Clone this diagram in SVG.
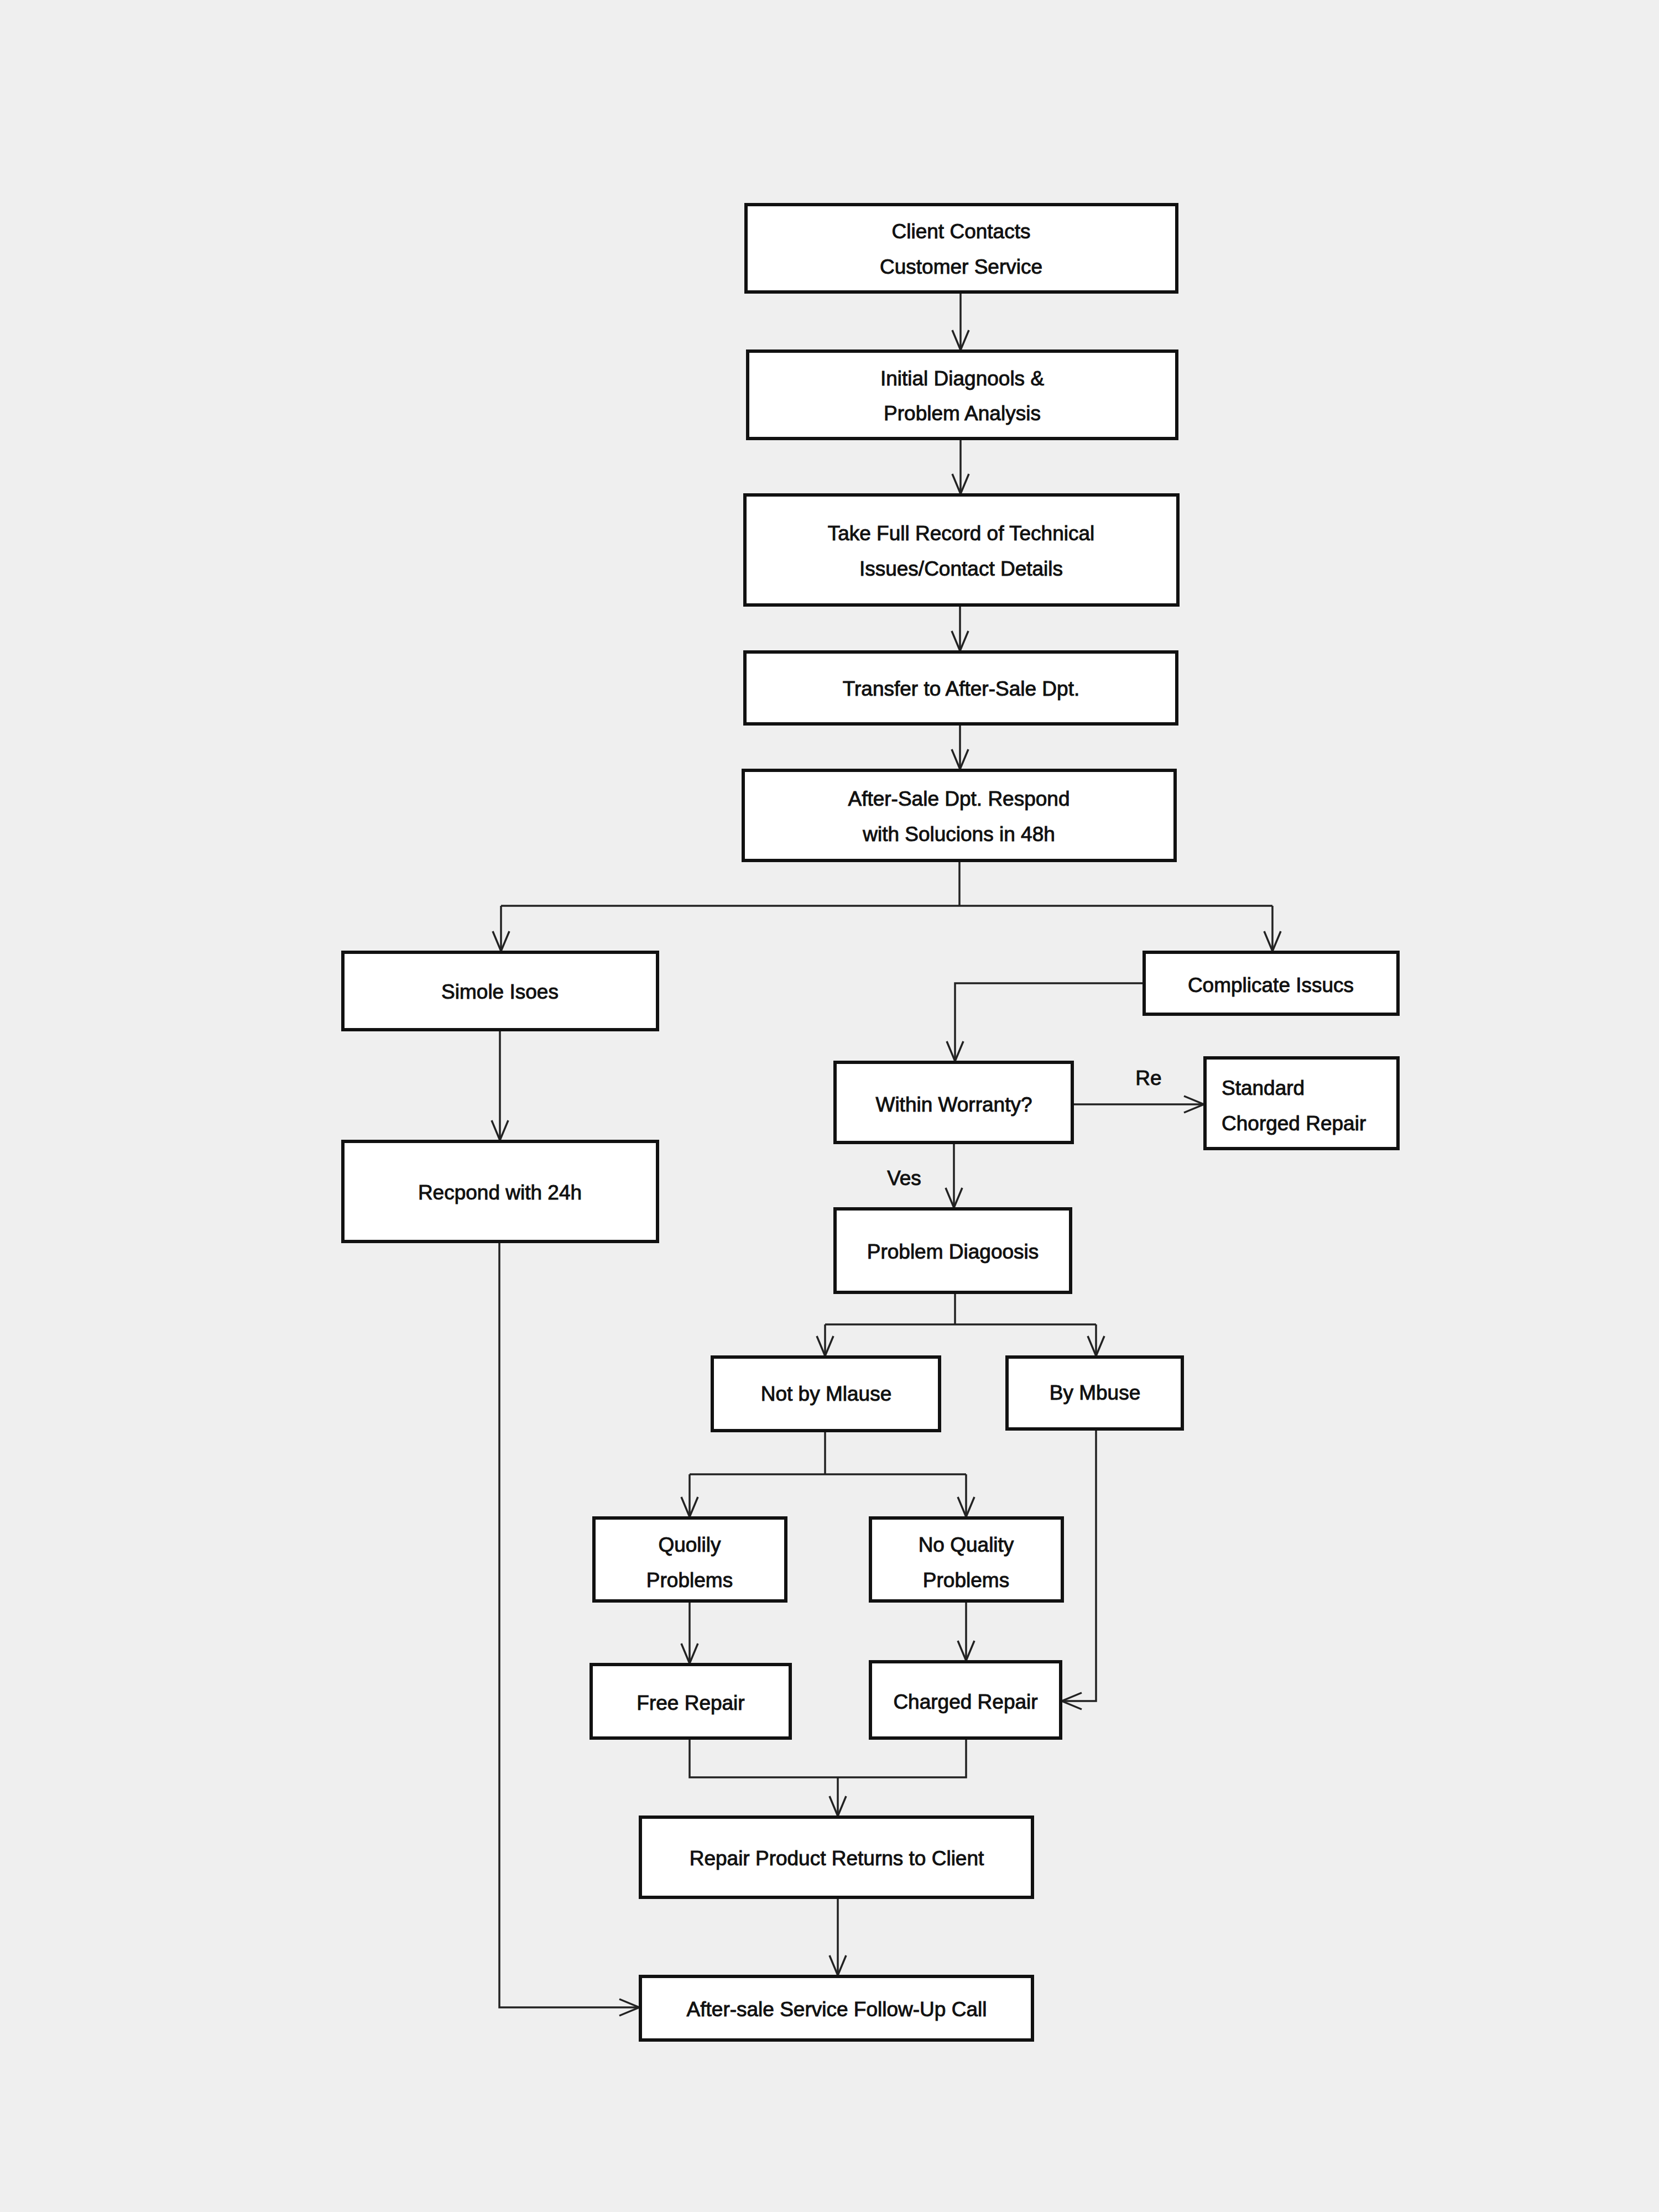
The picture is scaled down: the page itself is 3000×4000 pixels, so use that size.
<svg xmlns="http://www.w3.org/2000/svg" width="3000" height="4000" viewBox="0 0 3000 4000">
<defs>
<style>
.box{fill:#ffffff;stroke:#111111;stroke-width:6}
.t{font-family:"Liberation Sans","DejaVu Sans",sans-serif;font-size:37px;fill:#111111;stroke:#111111;stroke-width:1;text-anchor:middle;dominant-baseline:central}
.l{font-family:"Liberation Sans","DejaVu Sans",sans-serif;font-size:37px;fill:#111111;stroke:#111111;stroke-width:1;dominant-baseline:central}
.c{fill:none;stroke:#222222;stroke-width:3.5}
</style>
<marker id="arr" markerUnits="userSpaceOnUse" markerWidth="50" markerHeight="50" viewBox="-25 -25 50 50" refX="0" refY="0" orient="auto" overflow="visible">
<polyline points="-36,-15 0,0 -36,15" fill="none" stroke="#222222" stroke-width="3.5"/>
</marker>
</defs>
<rect x="0" y="0" width="3000" height="4000" fill="#efefef"/>
<g id="connectors">
<line class="c" x1="1737" y1="528" x2="1737" y2="633" marker-end="url(#arr)"/>
<line class="c" x1="1737" y1="793" x2="1737" y2="893" marker-end="url(#arr)"/>
<line class="c" x1="1736" y1="1094" x2="1736" y2="1177" marker-end="url(#arr)"/>
<line class="c" x1="1736" y1="1309" x2="1736" y2="1391" marker-end="url(#arr)"/>
<polyline class="c" points="1735,1556 1735,1638"/>
<polyline class="c" points="906,1638 2301,1638"/>
<line class="c" x1="906" y1="1638" x2="906" y2="1720" marker-end="url(#arr)"/>
<line class="c" x1="2301" y1="1638" x2="2301" y2="1720" marker-end="url(#arr)"/>
<line class="c" x1="904" y1="1862" x2="904" y2="2062" marker-end="url(#arr)"/>
<polyline class="c" points="2069,1778 1727,1778 1727,1919" marker-end="url(#arr)"/>
<line class="c" x1="1939" y1="1997" x2="2177" y2="1997" marker-end="url(#arr)"/>
<line class="c" x1="1725" y1="2066" x2="1725" y2="2184" marker-end="url(#arr)"/>
<polyline class="c" points="1727,2337 1727,2395"/>
<polyline class="c" points="1492,2395 1982,2395"/>
<line class="c" x1="1492" y1="2395" x2="1492" y2="2452" marker-end="url(#arr)"/>
<line class="c" x1="1982" y1="2395" x2="1982" y2="2452" marker-end="url(#arr)"/>
<polyline class="c" points="1492,2587 1492,2666"/>
<polyline class="c" points="1247,2666 1747,2666"/>
<line class="c" x1="1247" y1="2666" x2="1247" y2="2743" marker-end="url(#arr)"/>
<line class="c" x1="1747" y1="2666" x2="1747" y2="2743" marker-end="url(#arr)"/>
<line class="c" x1="1247" y1="2895" x2="1247" y2="3008" marker-end="url(#arr)"/>
<line class="c" x1="1747" y1="2895" x2="1747" y2="3003" marker-end="url(#arr)"/>
<polyline class="c" points="1982,2584 1982,3076 1920,3076" marker-end="url(#arr)"/>
<polyline class="c" points="1247,3143 1247,3214 1747,3214 1747,3143"/>
<line class="c" x1="1515" y1="3214" x2="1515" y2="3284" marker-end="url(#arr)"/>
<line class="c" x1="1515" y1="3431" x2="1515" y2="3572" marker-end="url(#arr)"/>
<polyline class="c" points="903,2245 903,3630 1156,3630" marker-end="url(#arr)"/>
</g>
<g id="n1"><rect class="box" x="1349" y="370" width="779" height="158"/><text class="t" x="1738" y="418">Client Contacts</text><text class="t" x="1738" y="482">Customer Service</text></g>
<g id="n2"><rect class="box" x="1352" y="635" width="776" height="158"/><text class="t" x="1740" y="684">Initial Diagnools &amp;</text><text class="t" x="1740" y="747">Problem Analysis</text></g>
<g id="n3"><rect class="box" x="1347" y="895" width="783" height="199"/><text class="t" x="1738" y="964">Take Full Record of Technical</text><text class="t" x="1738" y="1028">Issues/Contact Details</text></g>
<g id="n4"><rect class="box" x="1347" y="1179" width="781" height="130"/><text class="t" x="1738" y="1245">Transfer to After-Sale Dpt.</text></g>
<g id="n5"><rect class="box" x="1344" y="1393" width="781" height="163"/><text class="t" x="1734" y="1444">After-Sale Dpt. Respond</text><text class="t" x="1734" y="1508">with Solucions in 48h</text></g>
<g id="n6"><rect class="box" x="620" y="1722" width="569" height="140"/><text class="t" x="904" y="1793">Simole Isoes</text></g>
<g id="n7"><rect class="box" x="620" y="2064" width="569" height="181"/><text class="t" x="904" y="2156">Recpond with 24h</text></g>
<g id="n8"><rect class="box" x="2069" y="1722" width="459" height="112"/><text class="t" x="2298" y="1781">Complicate Issucs</text></g>
<g id="n9"><rect class="box" x="1510" y="1921" width="429" height="145"/><text class="t" x="1725" y="1997">Within Worranty?</text></g>
<g id="n10"><rect class="box" x="2179" y="1913" width="349" height="164"/><text class="l" x="2209" y="1967">Standard</text><text class="l" x="2209" y="2031">Chorged Repair</text></g>
<g id="lbl-re"><text class="t" x="2077" y="1949">Re</text></g>
<g id="lbl-yes"><text class="t" x="1635" y="2130">Ves</text></g>
<g id="n11"><rect class="box" x="1510" y="2186" width="426" height="151"/><text class="t" x="1723" y="2263">Problem Diagoosis</text></g>
<g id="n12"><rect class="box" x="1288" y="2454" width="411" height="133"/><text class="t" x="1494" y="2520">Not by Mlause</text></g>
<g id="n13"><rect class="box" x="1821" y="2454" width="317" height="130"/><text class="t" x="1980" y="2518">By Mbuse</text></g>
<g id="n14"><rect class="box" x="1074" y="2745" width="347" height="150"/><text class="t" x="1247" y="2793">Quolily</text><text class="t" x="1247" y="2857">Problems</text></g>
<g id="n15"><rect class="box" x="1574" y="2745" width="347" height="150"/><text class="t" x="1747" y="2793">No Quality</text><text class="t" x="1747" y="2857">Problems</text></g>
<g id="n16"><rect class="box" x="1069" y="3010" width="360" height="133"/><text class="t" x="1249" y="3079">Free Repair</text></g>
<g id="n17"><rect class="box" x="1574" y="3005" width="344" height="138"/><text class="t" x="1746" y="3077">Charged Repair</text></g>
<g id="n18"><rect class="box" x="1158" y="3286" width="709" height="145"/><text class="t" x="1513" y="3360">Repair Product Returns to Client</text></g>
<g id="n19"><rect class="box" x="1158" y="3574" width="709" height="115"/><text class="t" x="1513" y="3633">After-sale Service Follow-Up Call</text></g>
</svg>
